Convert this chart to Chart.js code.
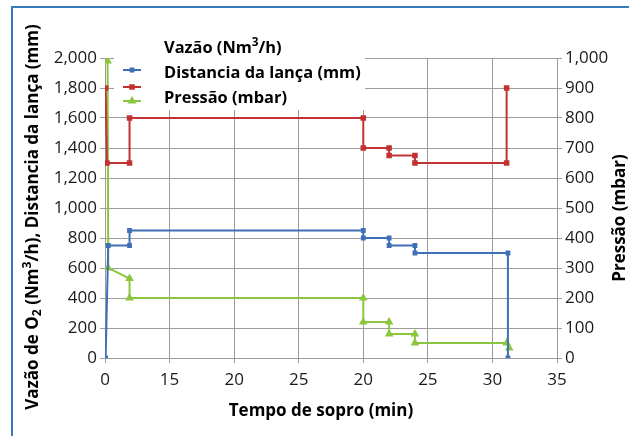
<!DOCTYPE html>
<html><head><meta charset="utf-8">
<script src="https://cdn.jsdelivr.net/npm/chart.js@4/dist/chart.umd.min.js"></script>
<style>html,body{margin:0;padding:0;background:#fff}#wrap{position:relative;width:629px;height:436px}</style>
</head><body><div id="wrap"><canvas id="c" width="629" height="436"></canvas></div>
<script>
// ---- data ----
const xTickValues = [0, 5, 10, 15, 20, 25, 30, 35];
const xTickLabels = ['0', '15', '20', '25', '20', '25', '30', '35'];
const vazaoX = [0.05, 0.25, 1.9, 1.9, 20, 20, 22, 22, 24, 24, 31.2, 31.2];
const vazaoY = [0, 750, 750, 850, 850, 800, 800, 750, 750, 700, 700, 0];
const distX  = [0.05, 0.15, 1.9, 1.9, 20, 20, 22, 22, 24, 24, 31.1, 31.1];
const distY  = [1800, 1300, 1300, 1600, 1600, 1400, 1400, 1350, 1350, 1300, 1300, 1800];
const pressX = [0.2, 0.25, 1.9, 1.9, 20, 20, 22, 22, 24, 24, 31.1, 31.3];
const pressY = [990, 300, 265, 200, 200, 120, 120, 80, 80, 50, 50, 33];
const seriesNames = ['Vazão (Nm³/h)', 'Distancia da lança (mm)', 'Pressão (mbar)'];
const xTitle = 'Tempo de sopro (min)';
const yTitle = 'Vazão de O₂ (Nm³/h), Distancia da lança (mm)';
const y1Title = 'Pressão (mbar)';

const BLUE = '#3F6FB6', RED = '#C23232', GREEN = '#8CC63E';
const GRID = '#9c9c9c', TXT = '#1a1a1a';
const FONT = '"Open Sans", "DejaVu Sans", sans-serif';
const pts = (xs, ys) => xs.map((x, i) => ({x, y: ys[i]}));

function drawRich(ctx, segs, x, y, size, align) {
  let total = 0;
  segs.forEach(s => {
    s.fs = (s.sub || s.sup) ? size * 0.72 : size;
    ctx.font = `bold ${s.fs}px ${FONT}`;
    s.w = ctx.measureText(s.t).width; total += s.w;
  });
  let cx = align === 'center' ? x - total / 2 : x;
  ctx.textAlign = 'left'; ctx.textBaseline = 'middle';
  segs.forEach(s => {
    ctx.font = `bold ${s.fs}px ${FONT}`;
    const dy = s.sub ? size * 0.28 : (s.sup ? -size * 0.3 : 0);
    ctx.fillText(s.t, cx, y + dy); cx += s.w;
  });
}

const decor = {
  id: 'decor',
  beforeDraw(chart) {
    const ctx = chart.ctx; ctx.save();
    ctx.fillStyle = '#fff'; ctx.fillRect(0, 0, chart.width, chart.height);
    ctx.restore();
  },
  afterDraw(chart) {
    const ctx = chart.ctx; ctx.save();
    ctx.fillStyle = '#000';
    // x title
    drawRich(ctx, [{t: xTitle}], 321, 411, 17, 'center');
    // left title
    ctx.save(); ctx.translate(33, 217); ctx.rotate(-Math.PI / 2);
    drawRich(ctx, [{t: 'Vazão de O'}, {t: '2', sub: true}, {t: ' (Nm'}, {t: '3', sup: true}, {t: '/h), Distancia da lança (mm)'}], 0, 0, 17, 'center');
    ctx.restore();
    // right title
    ctx.save(); ctx.translate(620, 218); ctx.rotate(-Math.PI / 2);
    drawRich(ctx, [{t: y1Title}], 0, 0, 17, 'center');
    ctx.restore();
    // legend box
    ctx.fillStyle = '#fff'; ctx.fillRect(114, 30, 251, 80);
    ctx.fillStyle = '#000';
    drawRich(ctx, [{t: 'Vazão (Nm'}, {t: '3', sup: true}, {t: '/h)'}], 164, 48, 16.4, 'left');
    drawRich(ctx, [{t: seriesNames[1]}], 164, 73, 16.4, 'left');
    drawRich(ctx, [{t: seriesNames[2]}], 164, 98, 16.4, 'left');
    const marks = [[BLUE, 70, 'rect', 2], [RED, 87, 'rect', 2.5], [GREEN, 101, 'triangle', 3]];
    marks.forEach(([c, y, st, r]) => {
      ctx.strokeStyle = c; ctx.fillStyle = c; ctx.lineWidth = 2;
      ctx.beginPath(); ctx.moveTo(123, y); ctx.lineTo(141, y); ctx.stroke();
      Chart.helpers.drawPoint(ctx, {pointStyle: st, radius: r, borderWidth: 1}, 132, y);
    });
    // frame
    ctx.strokeStyle = '#3478BE'; ctx.lineWidth = 2;
    ctx.beginPath(); ctx.moveTo(12, 436); ctx.lineTo(12, 7); ctx.lineTo(629, 7); ctx.stroke();
    ctx.restore();
  }
};

const tickFont = {family: FONT, size: 17};
new Chart(document.getElementById('c'), {
  type: 'line',
  data: {datasets: [
    {label: seriesNames[0], data: pts(vazaoX, vazaoY), yAxisID: 'y', borderColor: BLUE, backgroundColor: BLUE, pointStyle: 'rect', pointRadius: 2, borderWidth: 2},
    {label: seriesNames[1], data: pts(distX, distY), yAxisID: 'y', borderColor: RED, backgroundColor: RED, pointStyle: 'rect', pointRadius: 2.5, borderWidth: 2},
    {label: seriesNames[2], data: pts(pressX, pressY), yAxisID: 'y1', borderColor: GREEN, backgroundColor: GREEN, pointStyle: 'triangle', pointRadius: 3, borderWidth: 2}
  ]},
  options: {
    responsive: false, animation: false,
    layout: {padding: {top: 58, left: 0, right: 0, bottom: 0}},
    plugins: {legend: {display: false}, tooltip: {enabled: false}},
    elements: {line: {tension: 0}},
    scales: {
      x: {type: 'linear', min: 0, max: 35,
        afterBuildTicks: s => { s.ticks = xTickValues.map(v => ({value: v})); },
        ticks: {callback: v => xTickLabels[xTickValues.indexOf(v)], font: tickFont, color: TXT, padding: 7, maxRotation: 0, autoSkip: false},
        grid: {color: GRID, tickLength: 5}, border: {color: GRID},
        afterFit: s => { s.height = 78; }},
      y: {position: 'left', min: 0, max: 2000,
        ticks: {stepSize: 200, font: tickFont, color: TXT, padding: 3, callback: v => v.toLocaleString('en-US')},
        grid: {color: GRID, tickLength: 5}, border: {color: GRID},
        afterFit: s => { s.width = 105; }},
      y1: {position: 'right', min: 0, max: 1000,
        ticks: {stepSize: 100, font: tickFont, color: TXT, padding: 3, callback: v => v.toLocaleString('en-US')},
        grid: {drawOnChartArea: false, color: GRID, tickLength: 5}, border: {color: GRID},
        afterFit: s => { s.width = 72; }}
    }
  },
  plugins: [decor]
});
</script></body></html>
